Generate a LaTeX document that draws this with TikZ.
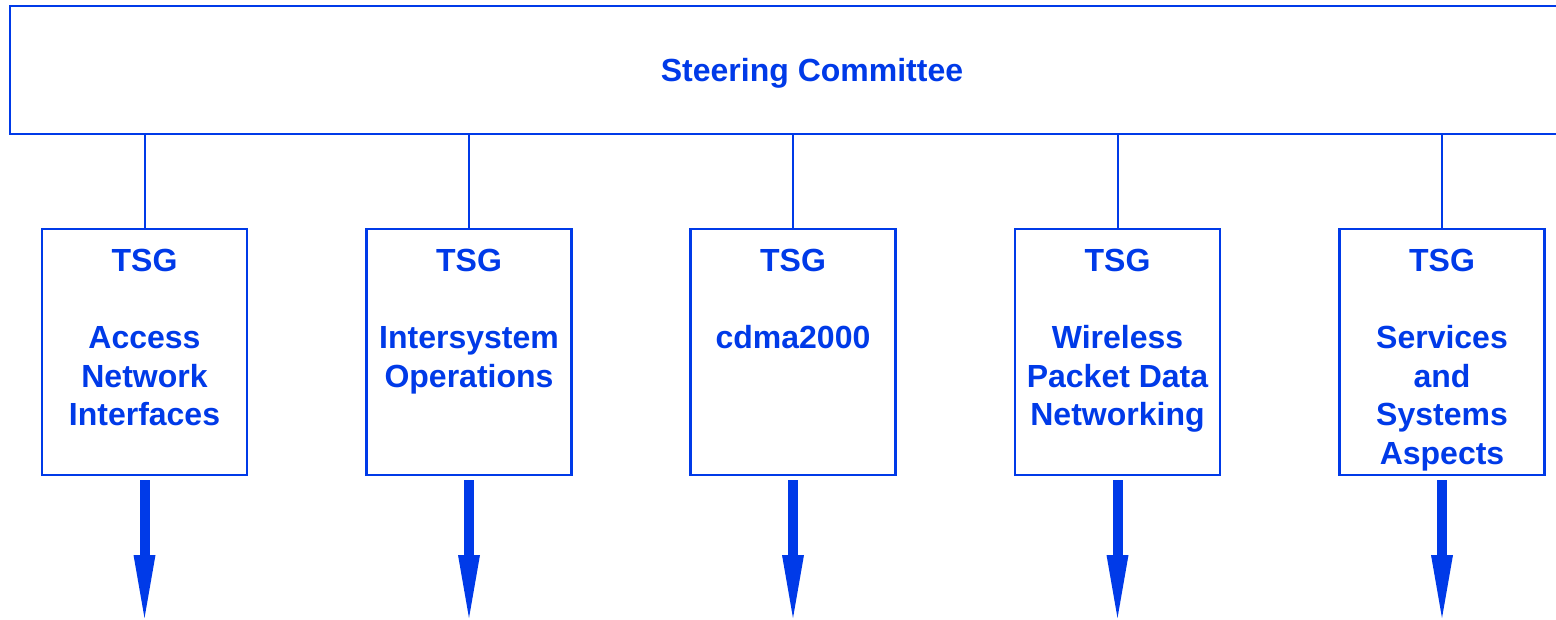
\documentclass[tikz,border=0pt]{standalone}
\usepackage{fontspec}
\setmainfont{Liberation Sans}
\usetikzlibrary{positioning,arrows.meta}
\definecolor{tsgblue}{RGB}{0,58,232}

\begin{document}
\begin{tikzpicture}[x=1pt,y=1pt,
		comm/.style={draw=tsgblue, line width=2.5pt, minimum width=1604pt, minimum height=128pt, inner sep=0pt, text height=31pt, text depth=7pt, text=tsgblue, font=\fontsize{32}{38.5}\selectfont\bfseries},
		tsgbox/.style={draw=tsgblue, line width=2.5pt, minimum width=205pt, minimum height=246pt, inner sep=0pt},
		tsgtext/.style={inner sep=0pt, align=center, text=tsgblue, font=\fontsize{32}{38.5}\selectfont\bfseries},
		link/.style={draw=tsgblue, line width=2pt},
		outflow/.style={draw=tsgblue, line width=10pt, -{Triangle[width=22pt,length=63pt,line width=0pt]}, shorten <=4pt}]
		\useasboundingbox (0,0) rectangle (1556,619);
		% steering committee, runs off the right edge
		\node[comm] (steer) at (812,549) {Steering Committee};
		% the five TSGs
		\node[tsgbox] (tsg1) at (144.5,267) {};
		\node[tsgbox] (tsg2) at (469,267) {};
		\node[tsgbox] (tsg3) at (793,267) {};
		\node[tsgbox] (tsg4) at (1117.5,267) {};
		\node[tsgbox] (tsg5) at (1442,267) {};
		\node[tsgtext, below=21.5pt of tsg1.north] (lab1) {TSG\\[38.5pt]Access\\Network\\Interfaces};
		\node[tsgtext, below=21.5pt of tsg2.north] (lab2) {TSG\\[38.5pt]Intersystem\\Operations};
		\node[tsgtext, below=21.5pt of tsg3.north] (lab3) {TSG\\[38.5pt]cdma2000};
		\node[tsgtext, below=21.5pt of tsg4.north] (lab4) {TSG\\[38.5pt]Wireless\\Packet Data\\Networking};
		\node[tsgtext, below=21.5pt of tsg5.north] (lab5) {TSG\\[38.5pt]Services\\and\\Systems\\Aspects};
		% links up to the committee
		\draw[link] (steer.south -| tsg1.north) -- (tsg1.north);
		\draw[link] (steer.south -| tsg2.north) -- (tsg2.north);
		\draw[link] (steer.south -| tsg3.north) -- (tsg3.north);
		\draw[link] (steer.south -| tsg4.north) -- (tsg4.north);
		\draw[link] (steer.south -| tsg5.north) -- (tsg5.north);
		% outputs
		\coordinate (out1) at (tsg1.south |- 0,1);
		\coordinate (out2) at (tsg2.south |- 0,1);
		\coordinate (out3) at (tsg3.south |- 0,1);
		\coordinate (out4) at (tsg4.south |- 0,1);
		\coordinate (out5) at (tsg5.south |- 0,1);
		\draw[outflow] (tsg1.south) -- (out1);
		\draw[outflow] (tsg2.south) -- (out2);
		\draw[outflow] (tsg3.south) -- (out3);
		\draw[outflow] (tsg4.south) -- (out4);
		\draw[outflow] (tsg5.south) -- (out5);
	\end{tikzpicture}
\end{document}
